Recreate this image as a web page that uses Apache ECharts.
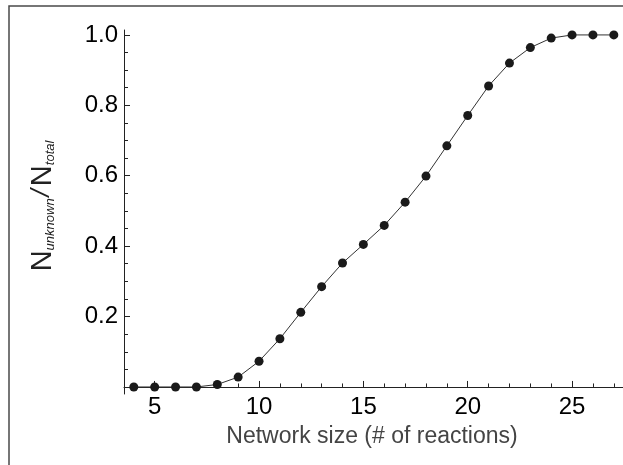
<!DOCTYPE html>
<html>
<head>
<meta charset="utf-8">
<script src="https://cdn.jsdelivr.net/npm/echarts@6/dist/echarts.min.js"></script>
<style>
  html, body { margin: 0; padding: 0; background: #fff; }
  #chart { width: 623px; height: 465px; }
</style>
</head>
<body>
<div id="chart"></div>
<script>
// ---- data ----
const networkSize = [4, 5, 6, 7, 8, 9, 10, 11, 12, 13, 14, 15, 16, 17, 18, 19, 20, 21, 22, 23, 24, 25, 26, 27];
const unknownFraction = [0, 0, 0, 0, 0.007, 0.028, 0.073, 0.137, 0.212, 0.285, 0.352, 0.405, 0.459, 0.525, 0.599, 0.685, 0.771, 0.855, 0.920, 0.964, 0.991, 1.0, 1.0, 1.0];

const xMajorTicks = [5, 10, 15, 20, 25];
const xMinorTicks = [4, 5, 6, 7, 8, 9, 10, 11, 12, 13, 14, 15, 16, 17, 18, 19, 20, 21, 22, 23, 24, 25, 26, 27];
const yMajorTicks = [0.2, 0.4, 0.6, 0.8, 1.0];
const yMinorTicks = [0.05, 0.1, 0.15, 0.2, 0.25, 0.3, 0.35, 0.4, 0.45, 0.5, 0.55, 0.6, 0.65, 0.7, 0.75, 0.8, 0.85, 0.9, 0.95, 1.0];

const xTitle = 'Network size (# of reactions)';

const chart = echarts.init(document.getElementById('chart'), null, { renderer: 'canvas' });

const FONT = '"Liberation Sans", Arial, Helvetica, sans-serif';
const X_MIN = 3.53, X_MAX = 27.44, Y_MIN = -0.02, Y_MAX = 1.014;

const option = {
  backgroundColor: '#ffffff',
  animation: false,
  grid: { left: 124, right: 0, top: 30, bottom: 71 },
  xAxis: [
    {
      type: 'value', min: X_MIN, max: X_MAX, position: 'bottom',
      axisLine: { show: true, onZero: true, lineStyle: { color: '#222', width: 1 } },
      axisTick: { show: true, inside: true, length: 6, customValues: xMajorTicks, lineStyle: { color: '#222', width: 1 } },
      axisLabel: { show: true, customValues: xMajorTicks, margin: 1, fontSize: 24, color: '#000', fontFamily: FONT },
      splitLine: { show: false }
    },
    {
      type: 'value', min: X_MIN, max: X_MAX, position: 'bottom',
      axisLine: { show: false, onZero: true },
      axisTick: { show: true, inside: true, length: 3.5, customValues: xMinorTicks, lineStyle: { color: '#222', width: 1 } },
      axisLabel: { show: false },
      splitLine: { show: false }
    }
  ],
  yAxis: [
    {
      type: 'value', min: Y_MIN, max: Y_MAX, position: 'left',
      axisLine: { show: true, onZero: false, lineStyle: { color: '#222', width: 1 } },
      axisTick: { show: true, inside: true, length: 6, customValues: yMajorTicks, lineStyle: { color: '#222', width: 1 } },
      axisLabel: { show: true, customValues: yMajorTicks, margin: 6, fontSize: 24, color: '#000', fontFamily: FONT,
        formatter: v => Number(v).toFixed(1) },
      splitLine: { show: false }
    },
    {
      type: 'value', min: Y_MIN, max: Y_MAX, position: 'left',
      axisLine: { show: false, onZero: false },
      axisTick: { show: true, inside: true, length: 4, customValues: yMinorTicks, lineStyle: { color: '#222', width: 1 } },
      axisLabel: { show: false },
      splitLine: { show: false }
    }
  ],
  series: [
    {
      type: 'line',
      xAxisIndex: 0, yAxisIndex: 0,
      data: networkSize.map((x, i) => [x, unknownFraction[i]]),
      symbol: 'circle',
      symbolSize: 9,
      showSymbol: true,
      clip: false,
      itemStyle: { color: '#1a1a1a' },
      lineStyle: { color: '#333', width: 1 },
      emphasis: { disabled: true }
    }
  ],
  graphic: [
    {
      type: 'rect', silent: true,
      shape: { x: 9, y: 6, width: 800, height: 800 },
      style: { fill: 'none', stroke: '#4a4a4a', lineWidth: 1.5 }
    },
    {
      type: 'text', silent: true,
      x: 372, y: 437,
      style: { text: xTitle, fontSize: 23, fontFamily: FONT, fill: '#444', align: 'center', verticalAlign: 'middle' }
    },
    {
      type: 'text', silent: true,
      x: 43, y: 206, rotation: Math.PI / 2,
      style: {
        text: '{n|N}{sub|unknown}{sl|/}{n|N}{sub|total}',
        align: 'center', verticalAlign: 'middle',
        fontFamily: FONT, fill: '#222',
        rich: {
          n: { fontSize: 29, lineHeight: 28, verticalAlign: 'middle', fontFamily: FONT, fill: '#222' },
          sub: { fontSize: 13, lineHeight: 13, verticalAlign: 'bottom', fontStyle: 'italic', fontFamily: FONT, fill: '#222' },
          sl: { fontSize: 26, lineHeight: 12, verticalAlign: 'top', fontStyle: 'italic', fontFamily: FONT, fill: '#222', padding: [0, 3, 0, 2] }
        }
      }
    }
  ]
};

chart.setOption(option);
</script>
</body>
</html>
